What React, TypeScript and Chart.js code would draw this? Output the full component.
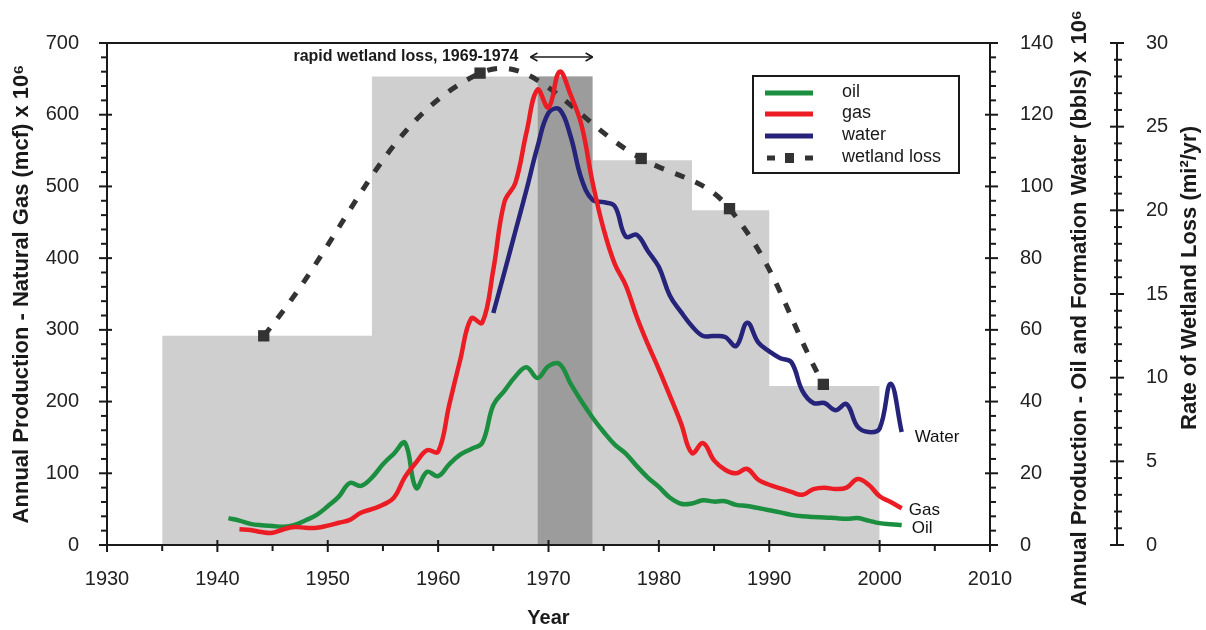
import React, { useEffect, useRef } from "react";
import { Chart, registerables } from "chart.js";

Chart.register(...registerables);

// ---- tick labels ----
const xTickYears = [1930, 1940, 1950, 1960, 1970, 1980, 1990, 2000, 2010];
const gasTicks = [0, 100, 200, 300, 400, 500, 600, 700];
const oilWaterTicks = [0, 20, 40, 60, 80, 100, 120, 140];
const lossTicks = [0, 5, 10, 15, 20, 25, 30];

// ---- oil (bbls x 10^6, right axis) ----
const oilYears = [
  1941, 1942, 1943, 1944, 1945, 1946, 1947, 1948, 1949, 1950, 1951, 1952, 1953, 1954, 1955, 1956,
  1957, 1958, 1959, 1960, 1961, 1962, 1963, 1964, 1965, 1966, 1967, 1968, 1969, 1970, 1971, 1972,
  1973, 1974, 1975, 1976, 1977, 1978, 1979, 1980, 1981, 1982, 1983, 1984, 1985, 1986, 1987, 1988,
  1989, 1990, 1991, 1992, 1993, 1994, 1995, 1996, 1997, 1998, 1999, 2000, 2001, 2002,
];
const oilValues = [
  7.5, 6.8, 5.9, 5.5, 5.3, 5.1, 5.6, 6.9, 8.4, 10.8, 13.5, 17.3, 16.5, 18.8, 22.5, 25.5,
  28.5, 15.9, 20.4, 19.2, 22.5, 25.2, 26.8, 28.5, 39, 43, 47, 49.6, 46.6, 49.9, 50.5, 45,
  40, 35.5, 31.5, 28, 25.5, 22, 18.8, 16.2, 13.2, 11.5, 11.6, 12.5, 12.1, 12.2, 11.2, 10.9,
  10.3, 9.7, 9.1, 8.4, 8.0, 7.8, 7.7, 7.5, 7.3, 7.5, 6.8, 6.1, 5.8, 5.6,
];

// ---- gas (mcf x 10^6, left axis) ----
const gasYears = [
  1942, 1943, 1944, 1945, 1946, 1947, 1948, 1949, 1950, 1951, 1952, 1953, 1954, 1955, 1956,
  1957, 1958, 1959, 1960, 1961, 1962, 1963, 1964, 1965, 1966, 1967, 1968, 1969, 1970, 1971, 1972,
  1973, 1974, 1975, 1976, 1977, 1978, 1979, 1980, 1981, 1982, 1983, 1984, 1985, 1986, 1987, 1988,
  1989, 1990, 1991, 1992, 1993, 1994, 1995, 1996, 1997, 1998, 1999, 2000, 2001, 2002,
];
const gasValues = [
  22, 21, 18, 17, 22, 25, 24, 24, 27, 31, 35, 45, 50, 56, 66,
  95, 115, 132, 130, 195, 258, 316, 310, 384, 478, 505, 575, 635, 610, 660, 628,
  585, 505, 440, 392, 362, 318, 280, 245, 208, 170, 128, 142, 118, 105, 100, 106,
  91, 84, 79, 74, 70, 78, 80, 78, 80, 92, 84, 68, 60, 51,
];

// ---- formation water (bbls x 10^6, right axis) ----
const waterYears = [
  1965, 1966, 1967, 1968, 1969, 1970, 1971, 1972, 1973, 1974, 1975, 1976, 1977, 1978, 1979, 1980,
  1981, 1982, 1983, 1984, 1985, 1986, 1987, 1988, 1989, 1990, 1991, 1992, 1993, 1994, 1995, 1996,
  1997, 1998, 1999, 2000, 2001, 2002,
];
const waterValues = [
  64.7, 76, 87.5, 99, 111, 120.5, 121.5, 114, 102, 96.2, 95.6, 94.5, 86, 86.5, 82, 77.5,
  69.5, 65, 61, 58.3, 58.3, 58, 55.5, 62, 56.5, 54, 52.1, 51, 43, 39.6, 39.6, 37.6,
  39.3, 33, 31.5, 32.5, 45, 31.5,
];

// ---- wetland loss (mi^2/yr, far right axis) ----
const lossYears = [1944.2, 1963.8, 1978.4, 1986.4, 1994.9];
const lossValues = [12.5, 28.2, 23.1, 20.1, 9.6];

// period bars (rate of wetland loss per period)
const periodStartYears = [1935, 1954, 1969, 1974, 1983, 1990, 2000];
const periodRates = [12.5, 28, 28, 23, 20, 9.5, 9.5];
const rapidYears = [1969, 1974];
const rapidRates = [28, 28];

const pts = (xs: number[], ys: number[]) => xs.map((x, i) => ({ x, y: ys[i] }));

const FONT = "'Liberation Sans', Arial, sans-serif";
const OIL = "#1b8f3f";
const GAS = "#ec1c24";
const WATER = "#25247a";
const LOSS = "#333333";

const decorPlugin = {
  id: "decor",
  afterDraw(chart: any) {
    const { ctx, chartArea: ca, scales } = chart;
    const xs = scales.x, ys = scales.y, y1 = scales.y1, y2 = scales.y2;
    ctx.save();
    ctx.strokeStyle = "#1a1a1a";
    ctx.lineWidth = 2;
    const ln = (a: number, b: number, c: number, d: number) => {
      ctx.beginPath();
      ctx.moveTo(a, b);
      ctx.lineTo(c, d);
      ctx.stroke();
    };
    // frame
    ctx.strokeRect(ca.left, ca.top, ca.right - ca.left, ca.bottom - ca.top);
    // x ticks (every 5 years)
    for (let v = 1930; v <= 2010; v += 5) {
      const px = xs.getPixelForValue(v);
      const major = v % 10 === 0;
      ln(px, ca.bottom - (major ? 5 : 0), px, ca.bottom + (major ? 7 : 6));
    }
    // left ticks (every 20)
    for (let v = 0; v <= 700; v += 20) {
      const py = ys.getPixelForValue(v);
      const major = v % 100 === 0;
      ln(ca.left - (major ? 8 : 6), py, ca.left + (major ? 5 : 0), py);
    }
    // right ticks (every 4)
    for (let v = 0; v <= 140; v += 4) {
      const py = y1.getPixelForValue(v);
      const major = v % 20 === 0;
      ln(ca.right - (major ? 5 : 0), py, ca.right + (major ? 8 : 6), py);
    }
    // far right axis
    const ax = y2.left;
    ln(ax, y2.getPixelForValue(0), ax, y2.getPixelForValue(30));
    for (let v = 0; v <= 30; v += 1) {
      const py = y2.getPixelForValue(v);
      const major = v % 5 === 0;
      ln(ax - (major ? 7 : 3), py, ax + (major ? 7 : 5), py);
    }

    // right axis titles (reading bottom to top)
    ctx.fillStyle = "#1a1a1a";
    ctx.textAlign = "center";
    ctx.textBaseline = "middle";
    ctx.font = `bold 22px ${FONT}`;
    ctx.save();
    ctx.translate(y1.left + 90, 308);
    ctx.rotate(-Math.PI / 2);
    ctx.fillText("Annual Production - Oil and Formation Water (bbls) x 10\u2076", 0, 0);
    ctx.restore();
    ctx.save();
    ctx.translate(y2.left + 73, 278);
    ctx.rotate(-Math.PI / 2);
    ctx.fillText("Rate of Wetland Loss (mi\u00b2/yr)", 0, 0);
    ctx.restore();

    // annotation: rapid wetland loss
    const ax0 = xs.getPixelForValue(1969) - 7;
    const ax1 = xs.getPixelForValue(1974);
    const ay = 57;
    ctx.font = `bold 16px ${FONT}`;
    ctx.textAlign = "right";
    ctx.fillText("rapid wetland loss, 1969-1974", ax0 - 12, ay);
    ctx.lineWidth = 1.5;
    ln(ax0, ay, ax1, ay);
    ln(ax0, ay, ax0 + 7, ay - 4);
    ln(ax0, ay, ax0 + 7, ay + 4);
    ln(ax1, ay, ax1 - 7, ay - 4);
    ln(ax1, ay, ax1 - 7, ay + 4);

    // end-of-line labels
    ctx.font = `17px ${FONT}`;
    ctx.textAlign = "left";
    ctx.fillStyle = "#111";
    const wl = waterYears.length - 1;
    ctx.fillText("Water", xs.getPixelForValue(waterYears[wl]) + 13, y1.getPixelForValue(waterValues[wl]) + 5);
    const gl = gasYears.length - 1;
    ctx.fillText("Gas", xs.getPixelForValue(gasYears[gl]) + 7, ys.getPixelForValue(gasValues[gl]) + 2);
    const ol = oilYears.length - 1;
    ctx.fillText("Oil", xs.getPixelForValue(oilYears[ol]) + 10, y1.getPixelForValue(oilValues[ol]) + 3);

    // legend
    const lx = 753, ly = 76, lw = 206, lh = 97;
    ctx.fillStyle = "#ffffff";
    ctx.fillRect(lx, ly, lw, lh);
    ctx.strokeStyle = "#1a1a1a";
    ctx.lineWidth = 2;
    ctx.strokeRect(lx, ly, lw, lh);
    const items = [
      { label: "oil", color: OIL, y: 93 },
      { label: "gas", color: GAS, y: 114 },
      { label: "water", color: WATER, y: 136 },
    ];
    ctx.lineWidth = 5;
    for (const it of items) {
      ctx.strokeStyle = it.color;
      ln(765, it.y, 813, it.y);
    }
    ctx.strokeStyle = LOSS;
    ln(767, 158, 775, 158);
    ln(805, 158, 813, 158);
    ctx.fillStyle = LOSS;
    ctx.fillRect(785, 153, 9, 10);
    ctx.fillStyle = "#1a1a1a";
    ctx.font = `18px ${FONT}`;
    ctx.textAlign = "left";
    ctx.textBaseline = "middle";
    for (const it of items) ctx.fillText(it.label, 842, it.y - 1);
    ctx.fillText("wetland loss", 842, 157);
    ctx.restore();
  },
};

export default function App() {
  const ref = useRef<HTMLCanvasElement | null>(null);

  useEffect(() => {
    if (!ref.current) return;
    Chart.defaults.font.family = FONT;
    const tickFont = { size: 20, family: FONT };
    const plain = (v: any) => String(v);
    const chart = new Chart(ref.current, {
      type: "line",
      data: {
        datasets: [
          {
            label: "gas",
            data: pts(gasYears, gasValues),
            yAxisID: "y",
            borderColor: GAS,
            borderWidth: 4.5,
            pointRadius: 0,
            tension: 0.4,
            fill: false,
            order: 1,
          },
          {
            label: "water",
            data: pts(waterYears, waterValues),
            yAxisID: "y1",
            borderColor: WATER,
            borderWidth: 4.5,
            pointRadius: 0,
            tension: 0.4,
            fill: false,
            order: 1,
          },
          {
            label: "oil",
            data: pts(oilYears, oilValues),
            yAxisID: "y1",
            borderColor: OIL,
            borderWidth: 4.5,
            pointRadius: 0,
            tension: 0.4,
            fill: false,
            order: 1,
          },
          {
            label: "wetland loss",
            data: pts(lossYears, lossValues),
            yAxisID: "y2",
            borderColor: LOSS,
            borderWidth: 5,
            borderDash: [10, 12],
            pointStyle: "rect",
            pointRadius: 8,
            pointBackgroundColor: LOSS,
            pointBorderColor: LOSS,
            pointBorderWidth: 0,
            tension: 0.4,
            fill: false,
            order: 2,
          },
          {
            label: "rapid",
            data: pts(rapidYears, rapidRates),
            yAxisID: "y2",
            borderWidth: 0,
            borderColor: "rgba(0,0,0,0)",
            backgroundColor: "#9c9c9c",
            pointRadius: 0,
            stepped: "before",
            fill: "origin",
            order: 9,
          },
          {
            label: "periods",
            data: pts(periodStartYears, periodRates),
            yAxisID: "y2",
            borderWidth: 0,
            borderColor: "rgba(0,0,0,0)",
            backgroundColor: "#cfcfcf",
            pointRadius: 0,
            stepped: "before",
            fill: "origin",
            order: 10,
          },
        ],
      },
      options: {
        animation: false,
        responsive: false,
        maintainAspectRatio: false,
        devicePixelRatio: 1,
        layout: { padding: { top: 43, left: 0, right: 0, bottom: 0 } },
        plugins: { legend: { display: false }, tooltip: { enabled: false } },
        scales: {
          x: {
            type: "linear",
            position: "bottom",
            min: 1930,
            max: 2010,
            afterBuildTicks: (s: any) => {
              s.ticks = xTickYears.map((v) => ({ value: v }));
            },
            ticks: { font: tickFont, color: "#222", padding: 14, maxRotation: 0, autoSkip: false, callback: plain },
            grid: { display: false },
            border: { display: false },
            title: {
              display: true,
              text: "Year",
              color: "#1a1a1a",
              font: { size: 20, weight: "bold", family: FONT },
              padding: { top: 0, bottom: 0 },
            },
            afterFit: (s: any) => {
              s.height = 85;
            },
          },
          y: {
            type: "linear",
            position: "left",
            min: 0,
            max: 700,
            afterBuildTicks: (s: any) => {
              s.ticks = gasTicks.map((v) => ({ value: v }));
            },
            ticks: { font: tickFont, color: "#222", padding: 20, callback: plain },
            grid: { display: false },
            border: { display: false },
            title: {
              display: true,
              text: "Annual Production - Natural Gas (mcf) x 10\u2076",
              color: "#1a1a1a",
              font: { size: 22, weight: "bold", family: FONT },
              padding: { top: 9, bottom: 0 },
            },
            afterFit: (s: any) => {
              s.width = 107;
            },
          },
          y1: {
            type: "linear",
            position: "right",
            min: 0,
            max: 140,
            afterBuildTicks: (s: any) => {
              s.ticks = oilWaterTicks.map((v) => ({ value: v }));
            },
            ticks: { font: tickFont, color: "#222", padding: 22, callback: plain },
            grid: { display: false },
            border: { display: false },
            afterFit: (s: any) => {
              s.width = 127;
            },
          },
          y2: {
            type: "linear",
            position: "right",
            min: 0,
            max: 30,
            afterBuildTicks: (s: any) => {
              s.ticks = lossTicks.map((v) => ({ value: v }));
            },
            ticks: { font: tickFont, color: "#222", padding: 21, callback: plain },
            grid: { display: false },
            border: { display: false },
            afterFit: (s: any) => {
              s.width = 89;
            },
          },
        },
      },
      plugins: [decorPlugin],
    } as any);
    return () => chart.destroy();
  }, []);

  return (
    <div style={{ position: "fixed", left: 0, top: 0, width: 1206, height: 630, background: "#fff" }}>
      <canvas ref={ref} width={1206} height={630} style={{ display: "block" }} />
    </div>
  );
}
